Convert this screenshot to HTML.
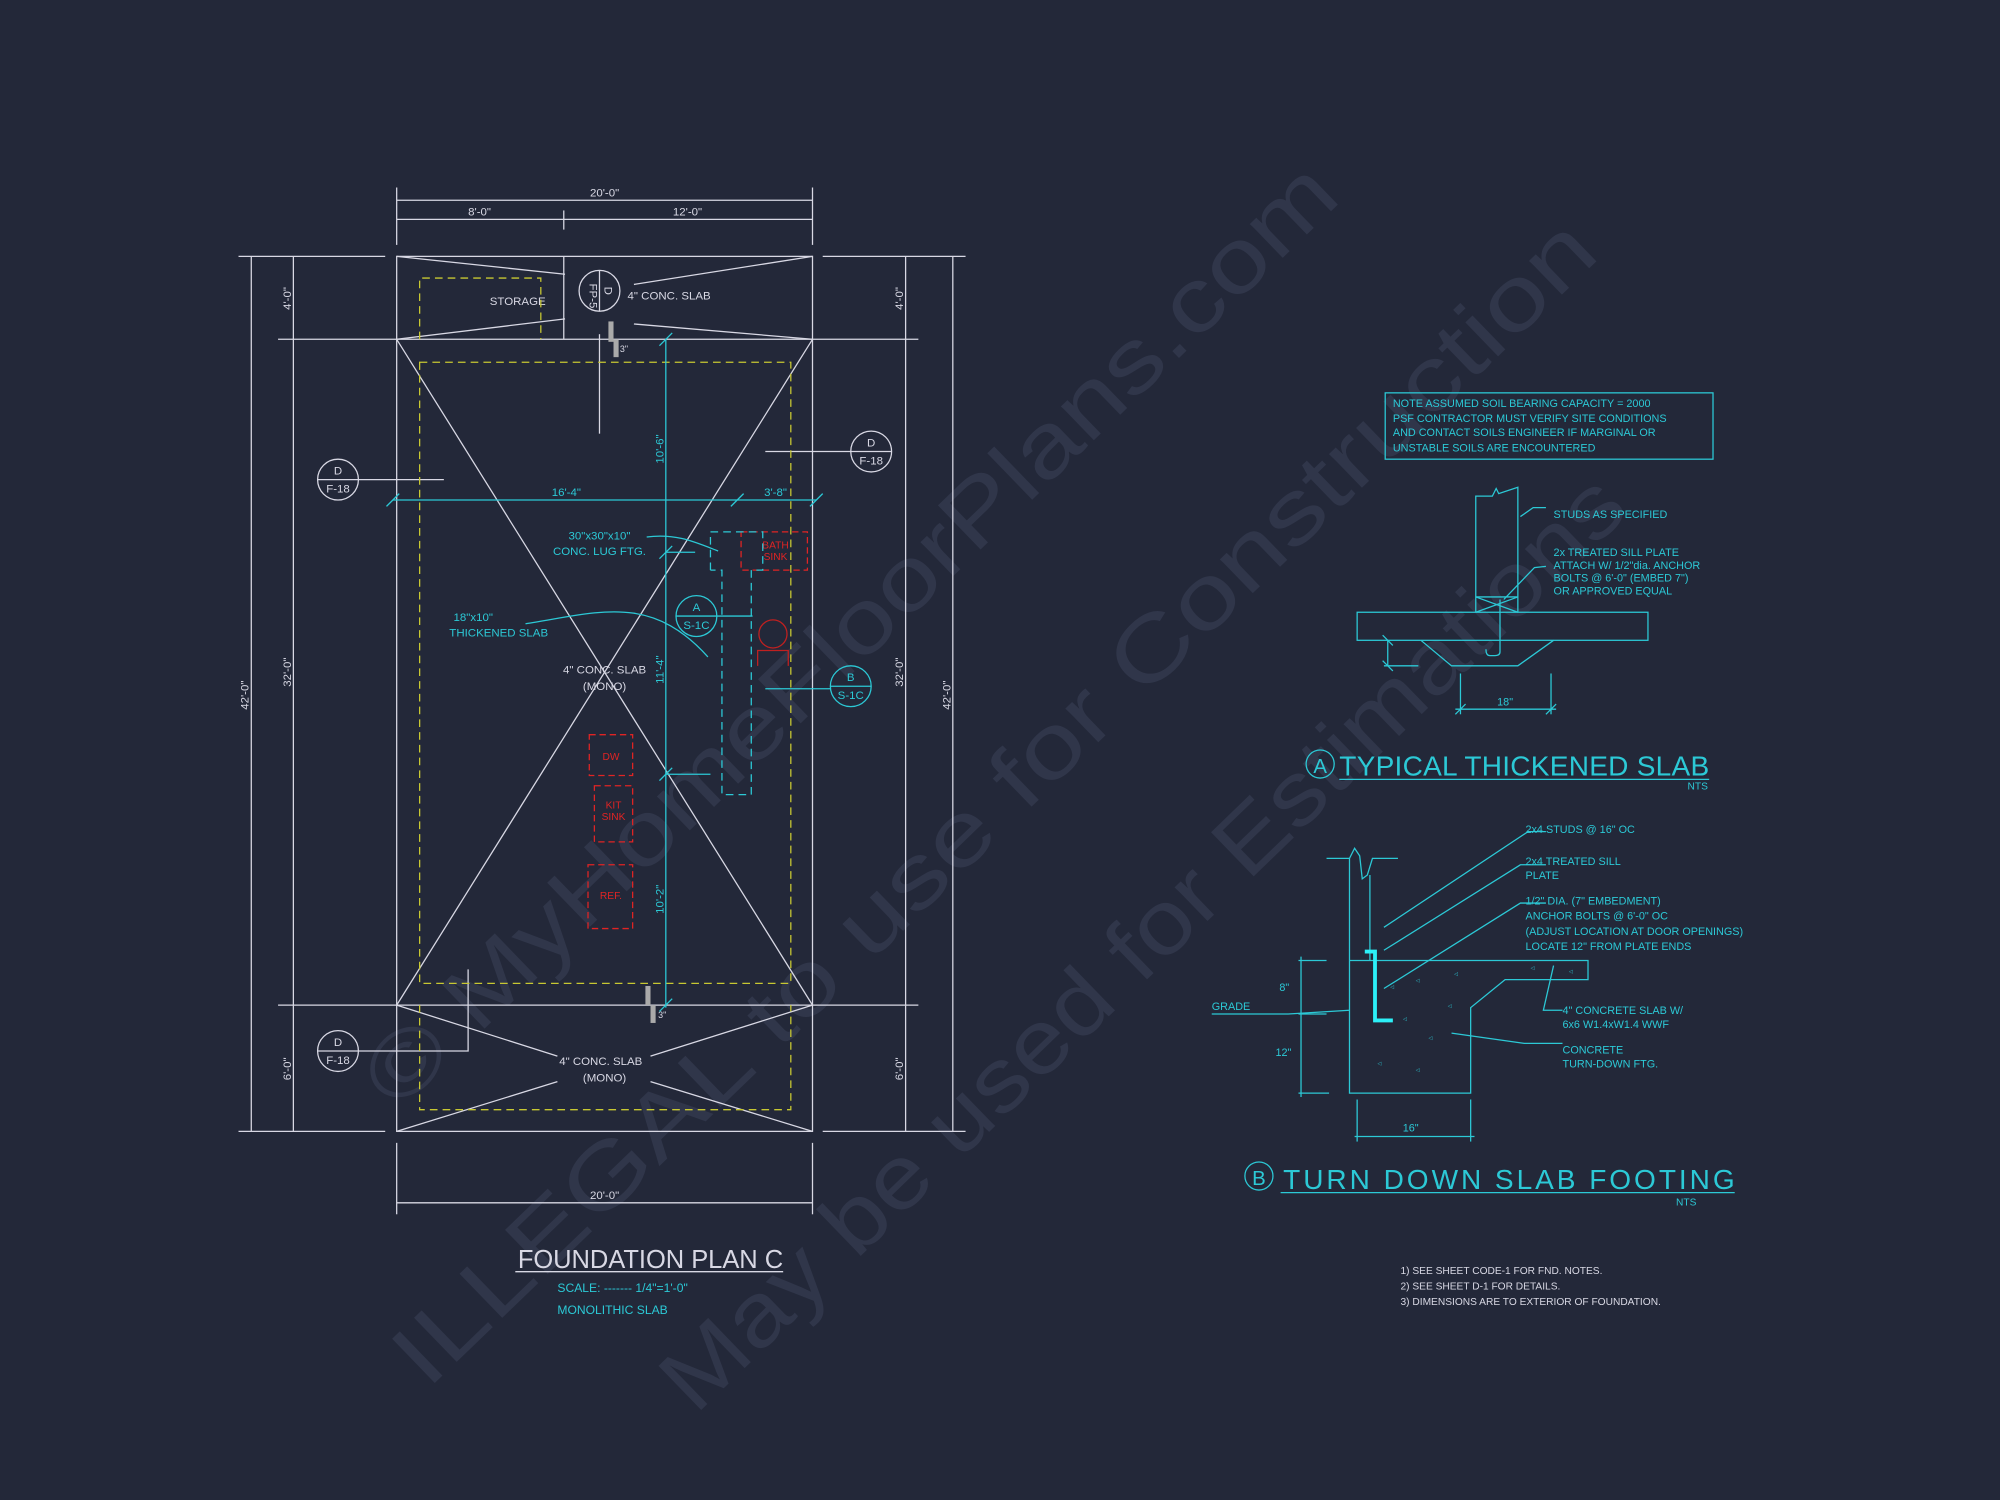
<!DOCTYPE html>
<html><head><meta charset="utf-8"><style>
html,body{margin:0;padding:0;background:#232839;}
svg{display:block}
text{font-family:"Liberation Sans",sans-serif;}
</style></head><body>
<svg width="2000" height="1500" viewBox="0 0 1568 1176" xmlns="http://www.w3.org/2000/svg">
<rect width="1568" height="1176" fill="#232839"/>
<g fill="#30364a" font-family="Liberation Serif,serif" font-size="70" lengthAdjust="spacingAndGlyphs">
<text x="0" y="0" textLength="1030" lengthAdjust="spacingAndGlyphs" transform="translate(312,872) rotate(-44)">© MyHomeFloorPlans.com</text>
<text x="0" y="0" textLength="1280" lengthAdjust="spacingAndGlyphs" transform="translate(335,1090) rotate(-44)">ILLEGAL to use for Construction</text>
<text x="0" y="0" textLength="1020" lengthAdjust="spacingAndGlyphs" transform="translate(545,1110) rotate(-44)">May be used for Estimations</text>
</g>
<g stroke="#d8d8e4" stroke-width="1" fill="none">
<line x1="311" y1="147" x2="311" y2="192"/><line x1="637" y1="147" x2="637" y2="192"/>
<line x1="311" y1="157" x2="637" y2="157"/><line x1="311" y1="172" x2="637" y2="172"/>
<line x1="442" y1="165" x2="442" y2="180"/>
<line x1="311" y1="896" x2="311" y2="952"/><line x1="637" y1="896" x2="637" y2="952"/>
<line x1="311" y1="943" x2="637" y2="943"/>
<rect x="311" y="201" width="326" height="686"/>
<line x1="187" y1="201" x2="302" y2="201"/><line x1="645" y1="201" x2="757" y2="201"/>
<line x1="187" y1="887" x2="302" y2="887"/><line x1="645" y1="887" x2="757" y2="887"/>
<line x1="218" y1="266" x2="720" y2="266"/><line x1="218" y1="788" x2="720" y2="788"/>
<line x1="197" y1="201" x2="197" y2="887"/><line x1="230" y1="201" x2="230" y2="887"/>
<line x1="710" y1="201" x2="710" y2="887"/><line x1="747" y1="201" x2="747" y2="887"/>
<line x1="311" y1="266" x2="637" y2="788"/><line x1="637" y1="266" x2="311" y2="788"/>
<line x1="442" y1="201" x2="442" y2="266"/>
<line x1="311" y1="201" x2="443" y2="215"/><line x1="311" y1="266" x2="443" y2="250"/>
<line x1="637" y1="201" x2="497" y2="223"/><line x1="637" y1="266" x2="497" y2="254"/>
<line x1="470" y1="262" x2="470" y2="340"/>
<circle cx="470" cy="228" r="16"/><line x1="470" y1="212" x2="470" y2="244"/>
<line x1="311" y1="788" x2="437" y2="828"/><line x1="311" y1="887" x2="437" y2="848"/>
<line x1="637" y1="788" x2="510" y2="828"/><line x1="637" y1="887" x2="510" y2="848"/>
<circle cx="265" cy="376" r="16"/><line x1="249" y1="376" x2="281" y2="376"/><line x1="281" y1="376" x2="348" y2="376"/>
<circle cx="683" cy="354" r="16"/><line x1="667" y1="354" x2="699" y2="354"/><line x1="600" y1="354" x2="667" y2="354"/>
<circle cx="265" cy="824" r="16"/><line x1="249" y1="824" x2="281" y2="824"/><polyline points="281,824 367,824 367,760"/>
<rect x="477" y="252" width="4" height="16" fill="#aaa" stroke="none"/>
<rect x="481" y="266" width="4" height="14" fill="#aaa" stroke="none"/>
<rect x="506" y="773" width="4" height="15" fill="#aaa" stroke="none"/>
<rect x="510" y="788" width="4" height="14" fill="#aaa" stroke="none"/>
</g>
<g fill="#d8d8e4" font-size="9">
<text x="474" y="154" text-anchor="middle">20'-0"</text>
<text x="376" y="169" text-anchor="middle">8'-0"</text>
<text x="539" y="169" text-anchor="middle">12'-0"</text>
<text x="474" y="940" text-anchor="middle">20'-0"</text>
<text x="384" y="239">STORAGE</text>
<text x="492" y="235">4" CONC. SLAB</text>
<text x="474" y="528" text-anchor="middle">4" CONC. SLAB</text>
<text x="474" y="541" text-anchor="middle">(MONO)</text>
<text x="471" y="835" text-anchor="middle">4" CONC. SLAB</text>
<text x="474" y="848" text-anchor="middle">(MONO)</text>
<text x="265" y="372" text-anchor="middle">D</text><text x="265" y="386" text-anchor="middle">F-18</text>
<text x="683" y="350" text-anchor="middle">D</text><text x="683" y="364" text-anchor="middle">F-18</text>
<text x="265" y="820" text-anchor="middle">D</text><text x="265" y="834" text-anchor="middle">F-18</text>
<text transform="translate(474,228) rotate(90)" text-anchor="middle" y="0">D</text>
<text transform="translate(462,232) rotate(90)" text-anchor="middle">FP-5</text>
<text transform="translate(228,234) rotate(-90)" text-anchor="middle">4'-0"</text>
<text transform="translate(228,527) rotate(-90)" text-anchor="middle">32'-0"</text>
<text transform="translate(228,838) rotate(-90)" text-anchor="middle">6'-0"</text>
<text transform="translate(195,545) rotate(-90)" text-anchor="middle">42'-0"</text>
<text transform="translate(708,234) rotate(-90)" text-anchor="middle">4'-0"</text>
<text transform="translate(708,527) rotate(-90)" text-anchor="middle">32'-0"</text>
<text transform="translate(708,838) rotate(-90)" text-anchor="middle">6'-0"</text>
<text transform="translate(745,545) rotate(-90)" text-anchor="middle">42'-0"</text>
<text x="486" y="276" font-size="7">3"</text>
<text x="516" y="798" font-size="7">3"</text>
</g>
<g stroke="#c8c832" stroke-width="1" fill="none" stroke-dasharray="6,4">
<rect x="329" y="284" width="291" height="487"/>
<polyline points="329,266 329,218 424,218 424,266"/>
<polyline points="329,788 329,870 620,870 620,788"/>
</g>
<g stroke="#e02424" stroke-width="1" fill="none" stroke-dasharray="5,3">
<rect x="581" y="417" width="52" height="30"/>
<rect x="462" y="576" width="34" height="32"/>
<rect x="466" y="616" width="30" height="44"/>
<rect x="461" y="678" width="35" height="50"/>
</g>
<g stroke="#c02020" fill="none"><circle cx="606" cy="497" r="11"/><polyline points="594,522 594,510 618,510 618,522"/></g>
<g fill="#e02424" font-size="8" text-anchor="middle">
<text x="608" y="430">BATH</text><text x="608" y="439">SINK</text>
<text x="479" y="596">DW</text>
<text x="481" y="634">KIT</text><text x="481" y="643">SINK</text>
<text x="479" y="705">REF.</text>
</g>
<g stroke="#2cc9d6" stroke-width="1" fill="none">
<line x1="522" y1="266" x2="522" y2="790"/>
<line x1="517" y1="271" x2="527" y2="261"/><line x1="517" y1="438" x2="527" y2="428"/><line x1="517" y1="612" x2="527" y2="602"/><line x1="517" y1="793" x2="527" y2="783"/>
<line x1="522" y1="433" x2="545" y2="433"/><line x1="522" y1="607" x2="557" y2="607"/>
<line x1="308" y1="392" x2="640" y2="392"/>
<line x1="303" y1="397" x2="313" y2="387"/><line x1="573" y1="397" x2="583" y2="387"/><line x1="635" y1="397" x2="645" y2="387"/>
<polyline points="557,447 557,417 598,417 598,447 589,447 589,623 566,623 566,447 557,447" stroke-dasharray="6,4"/>
<path d="M507,421 C530,418 545,425 563,432"/>
<path d="M412,489 C470,480 510,465 555,515"/>
<circle cx="546" cy="483" r="16"/><line x1="530" y1="483" x2="562" y2="483"/><line x1="562" y1="483" x2="590" y2="483"/>
<circle cx="667" cy="538" r="16"/><line x1="651" y1="538" x2="683" y2="538"/><line x1="600" y1="540" x2="651" y2="540"/>
</g>
<g fill="#2cc9d6" font-size="9">
<text x="444" y="389" text-anchor="middle">16'-4"</text>
<text x="608" y="389" text-anchor="middle">3'-8"</text>
<text transform="translate(520,352) rotate(-90)" text-anchor="middle">10'-6"</text>
<text transform="translate(520,525) rotate(-90)" text-anchor="middle">11'-4"</text>
<text transform="translate(520,705) rotate(-90)" text-anchor="middle">10'-2"</text>
<text x="470" y="423" text-anchor="middle">30"x30"x10"</text>
<text x="470" y="435" text-anchor="middle">CONC. LUG FTG.</text>
<text x="371" y="487" text-anchor="middle">18"x10"</text>
<text x="391" y="499" text-anchor="middle">THICKENED SLAB</text>
<text x="546" y="479" text-anchor="middle">A</text><text x="546" y="493" text-anchor="middle">S-1C</text>
<text x="667" y="534" text-anchor="middle">B</text><text x="667" y="548" text-anchor="middle">S-1C</text>
<text x="437" y="1013" font-size="9.5">SCALE: ------- 1/4"=1'-0"</text>
<text x="437" y="1030" font-size="9.5">MONOLITHIC SLAB</text>
</g>
<text x="406" y="994" fill="#d8d8e4" font-size="20" textLength="208">FOUNDATION PLAN C</text>
<line x1="404" y1="997" x2="614" y2="997" stroke="#d8d8e4"/>

<g stroke="#2cc9d6" stroke-width="1" fill="none">
<rect x="1086" y="308" width="257" height="52"/>
<polyline points="1157,480 1157,389 1170,389 1173,383 1175,387 1190,382 1190,480"/>
<line x1="1157" y1="468" x2="1190" y2="468"/><line x1="1157" y1="468" x2="1190" y2="480"/><line x1="1190" y1="468" x2="1157" y2="480"/>
<rect x="1064" y="480" width="228" height="22"/>
<polyline points="1114,502 1138,522 1190,522 1218,502"/>
<line x1="1088" y1="502" x2="1088" y2="522"/><line x1="1085" y1="522" x2="1112" y2="522"/>
<line x1="1084" y1="518" x2="1092" y2="526"/><line x1="1084" y1="498" x2="1092" y2="506"/>
<line x1="1145" y1="528" x2="1145" y2="560"/><line x1="1216" y1="528" x2="1216" y2="560"/>
<line x1="1141" y1="556" x2="1220" y2="556"/>
<line x1="1141" y1="560" x2="1149" y2="552"/><line x1="1212" y1="560" x2="1220" y2="552"/>
<path d="M1176,470 L1176,511 Q1176,514 1172,514 L1168,514 Q1165,514 1165,509"/>
<polyline points="1192,405 1202,398 1212,398"/>
<polyline points="1179,470 1203,445 1212,444"/>
</g>
<g fill="#2cc9d6" font-size="8.5">
<text x="1092" y="319">NOTE ASSUMED SOIL BEARING CAPACITY = 2000</text>
<text x="1092" y="331">PSF CONTRACTOR MUST VERIFY SITE CONDITIONS</text>
<text x="1092" y="342">AND CONTACT SOILS ENGINEER IF MARGINAL OR</text>
<text x="1092" y="354">UNSTABLE SOILS ARE ENCOUNTERED</text>
<text x="1218" y="406">STUDS AS SPECIFIED</text>
<text x="1218" y="436">2x  TREATED SILL PLATE</text>
<text x="1218" y="446">ATTACH W/ 1/2"dia. ANCHOR</text>
<text x="1218" y="456">BOLTS @ 6'-0" (EMBED 7")</text>
<text x="1218" y="466">OR APPROVED EQUAL</text>
<text x="1180" y="553" text-anchor="middle">18"</text>
<text x="1323" y="619" font-size="8">NTS</text>
<text x="1050" y="608" font-size="22" textLength="290">TYPICAL THICKENED SLAB</text>
</g>
<circle cx="1035" cy="599" r="11" stroke="#2cc9d6" fill="none"/>
<text x="1035" y="606" fill="#2cc9d6" font-size="16" text-anchor="middle">A</text>
<line x1="1050" y1="611" x2="1340" y2="611" stroke="#2cc9d6"/>

<g stroke="#2cc9d6" stroke-width="1" fill="none">
<polyline points="1040,673 1058,673 1062,665 1066,671 1068,689 1072,686 1076,673 1096,673"/>
<line x1="1058" y1="673" x2="1058" y2="753"/><line x1="1074" y1="686" x2="1074" y2="753"/>
<polyline points="1058,753 1058,857 1153,857 1153,790 1180,768 1245,768 1245,753 1058,753"/>
<line x1="1018" y1="753" x2="1040" y2="753"/><line x1="1018" y1="857" x2="1042" y2="857"/>
<line x1="1020" y1="750" x2="1020" y2="860"/><line x1="1018" y1="795" x2="1040" y2="795"/>
<polyline points="950,795 1010,795 1058,792"/>
<line x1="1064" y1="862" x2="1064" y2="895"/><line x1="1153" y1="862" x2="1153" y2="895"/>
<line x1="1062" y1="891" x2="1156" y2="891"/>
<polyline points="1085,727 1198,652 1212,652"/>
<polyline points="1085,745 1192,678 1212,678"/>
<polyline points="1085,775 1192,708 1212,708"/>
<polyline points="1218,757 1210,792 1225,792"/>
<polyline points="1138,810 1195,818 1225,818"/>
</g>
<polyline points="1070,746 1078,746 1078,800 1092,800" stroke="#2cf0f8" stroke-width="3" fill="none"/>
<g fill="#2cc9d6" font-size="8.5">
<text x="1196" y="653">2x4 STUDS @ 16" OC</text>
<text x="1196" y="678">2x4 TREATED SILL</text><text x="1196" y="689">PLATE</text>
<text x="1196" y="709">1/2" DIA. (7" EMBEDMENT)</text>
<text x="1196" y="721">ANCHOR BOLTS @ 6'-0" OC</text>
<text x="1196" y="733">(ADJUST LOCATION AT DOOR OPENINGS)</text>
<text x="1196" y="745">LOCATE 12" FROM PLATE ENDS</text>
<text x="1225" y="795">4" CONCRETE SLAB W/</text>
<text x="1225" y="806">6x6 W1.4xW1.4 WWF</text>
<text x="1225" y="826">CONCRETE</text>
<text x="1225" y="837">TURN-DOWN FTG.</text>
<text x="950" y="792">GRADE</text>
<text x="1003" y="777">8"</text><text x="1000" y="828">12"</text>
<text x="1106" y="887" text-anchor="middle">16"</text>
<text x="1314" y="945" font-size="8">NTS</text>
<text x="1006" y="932" font-size="22" textLength="354">TURN DOWN SLAB FOOTING</text>
</g>
<circle cx="987" cy="922" r="11" stroke="#2cc9d6" fill="none"/>
<text x="987" y="929" fill="#2cc9d6" font-size="16" text-anchor="middle">B</text>
<line x1="1004" y1="935" x2="1360" y2="935" stroke="#2cc9d6"/>
<g fill="#2cc9d6" font-size="4">
<text x="1090" y="775">◁</text><text x="1110" y="770">◁</text><text x="1140" y="765">◁</text><text x="1100" y="800">◁</text><text x="1120" y="815">◁</text><text x="1080" y="835">◁</text><text x="1110" y="840">◁</text><text x="1135" y="790">◁</text><text x="1200" y="760">◁</text><text x="1230" y="763">◁</text>
</g>
<g fill="#d8d8e4" font-size="8">
<text x="1098" y="999">1)  SEE SHEET CODE-1 FOR FND. NOTES.</text>
<text x="1098" y="1011">2)  SEE SHEET D-1 FOR DETAILS.</text>
<text x="1098" y="1023">3)  DIMENSIONS ARE TO EXTERIOR OF FOUNDATION.</text>
</g>
</svg>
</body></html>
